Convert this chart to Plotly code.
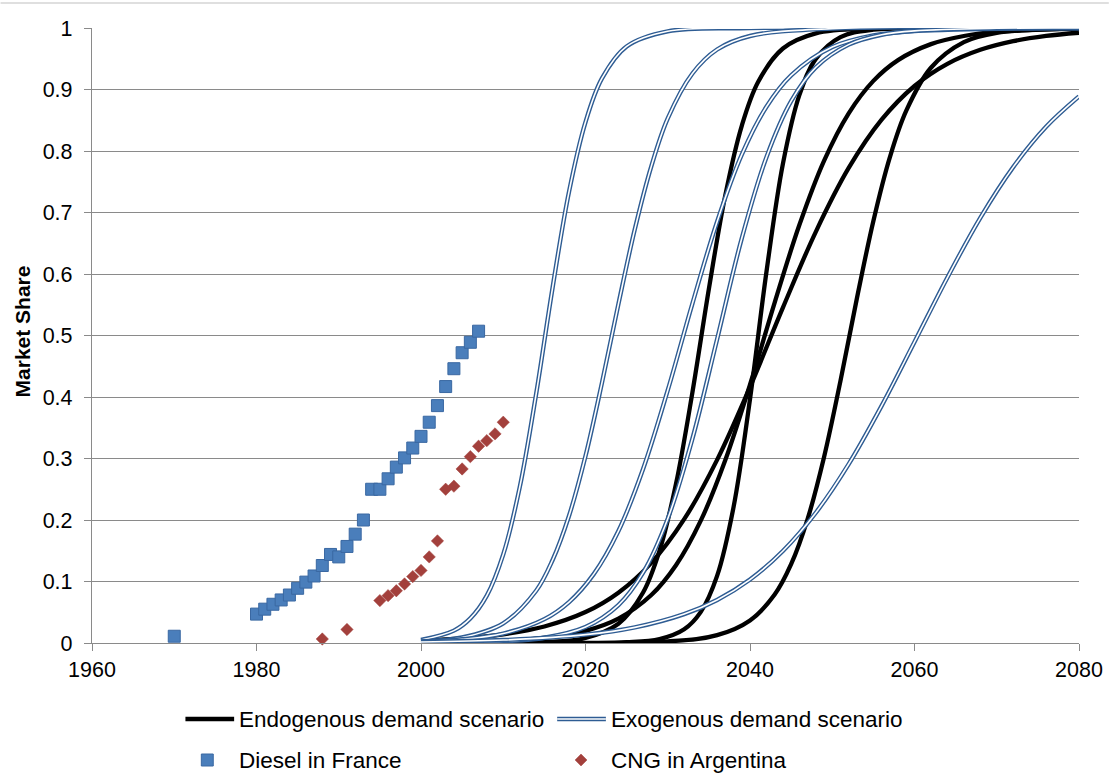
import plotly.graph_objects as go

# Historical observations
diesel_years = [1970, 1980, 1981, 1982, 1983, 1984, 1985, 1986, 1987, 1988, 1989,
                1990, 1991, 1992, 1993, 1994, 1995, 1996, 1997, 1998, 1999, 2000,
                2001, 2002, 2003, 2004, 2005, 2006, 2007]
diesel_share = [0.011, 0.047, 0.055, 0.063, 0.070, 0.078, 0.089, 0.099, 0.109, 0.126,
                0.144, 0.140, 0.157, 0.177, 0.200, 0.250, 0.250, 0.267, 0.286, 0.301,
                0.317, 0.336, 0.359, 0.386, 0.417, 0.446, 0.472, 0.489, 0.507]

cng_years = [1988, 1991, 1995, 1996, 1997, 1998, 1999, 2000, 2001, 2002, 2003, 2004,
             2005, 2006, 2007, 2008, 2009, 2010]
cng_share = [0.0065, 0.022, 0.069, 0.077, 0.085, 0.096, 0.108, 0.118, 0.140, 0.166,
             0.250, 0.255, 0.283, 0.303, 0.320, 0.329, 0.340, 0.359]

# Endogenous demand scenario curves
endo_1_years = [2000, 2010, 2015, 2020, 2024, 2027, 2029, 2031, 2033, 2035, 2037, 2039,
                2041, 2044, 2048, 2055, 2065, 2080]
endo_1_share = [0.0, 0.0003, 0.0015, 0.0082, 0.0312, 0.0821, 0.150, 0.2585, 0.4076,
                0.5759, 0.7283, 0.841, 0.9126, 0.9666, 0.9912, 0.9992, 1.0, 1.0]

endo_2_years = [2000, 2020, 2025, 2029, 2032, 2034, 2036, 2038, 2040, 2042, 2044, 2046,
                2048, 2051, 2055, 2065, 2080]
endo_2_share = [0.0, 0.0001, 0.0012, 0.0064, 0.0223, 0.0502, 0.1091, 0.2209, 0.3965,
                0.6035, 0.7791, 0.8909, 0.9498, 0.9852, 0.9972, 1.0, 1.0]

endo_3_years = [2000, 2010, 2016, 2020, 2024, 2028, 2031, 2034, 2037, 2040, 2043, 2046,
                2049, 2052, 2055, 2058, 2062, 2066, 2070, 2080]
endo_3_share = [0.0006, 0.0034, 0.0098, 0.0198, 0.0397, 0.0780, 0.1264, 0.1985, 0.2976,
                0.4202, 0.5535, 0.6796, 0.7840, 0.8613, 0.9140, 0.9478, 0.9738, 0.9870,
                0.9936, 0.9989]

endo_4_years = [2000, 2005, 2010, 2015, 2020, 2024, 2028, 2032, 2036, 2040, 2044, 2048,
                2052, 2056, 2060, 2064, 2068, 2072, 2076, 2080]
endo_4_share = [0.0039, 0.0075, 0.0142, 0.0269, 0.0503, 0.0818, 0.1303, 0.2013, 0.2978,
                0.4163, 0.5454, 0.6686, 0.7724, 0.8509, 0.9057, 0.9417, 0.9645, 0.9786,
                0.9872, 0.9923]

endo_5_years = [2000, 2030, 2036, 2040, 2043, 2045, 2047, 2049, 2051, 2053, 2055, 2057,
                2059, 2062, 2066, 2070, 2080]
endo_5_share = [0.0, 0.0026, 0.0128, 0.0367, 0.0789, 0.1282, 0.2015, 0.3022, 0.4263,
                0.5605, 0.6863, 0.7897, 0.8656, 0.9354, 0.9771, 0.9921, 0.9995]

# Exogenous demand scenario curves
exo_1_years = [2000, 2004, 2006, 2008, 2010, 2012, 2014, 2016, 2018, 2020, 2022, 2025,
               2030, 2040, 2080]
exo_1_share = [0.005, 0.0201, 0.040, 0.077, 0.144, 0.253, 0.405, 0.578, 0.734, 0.847,
               0.918, 0.970, 0.9946, 0.9998, 1.0]

exo_2_years = [2000, 2005, 2010, 2014, 2016, 2018, 2020, 2022, 2024, 2026, 2028, 2030,
               2033, 2036, 2040, 2050, 2080]
exo_2_share = [0.0025, 0.009, 0.032, 0.085, 0.135, 0.207, 0.304, 0.423, 0.551, 0.673,
               0.775, 0.853, 0.926, 0.965, 0.987, 0.999, 1.0]

exo_3_years = [2000, 2005, 2010, 2015, 2018, 2021, 2024, 2027, 2030, 2033, 2036, 2039,
               2042, 2045, 2050, 2055, 2060, 2080]
exo_3_share = [0.0023, 0.006, 0.0154, 0.0388, 0.0666, 0.112, 0.182, 0.283, 0.411, 0.552,
               0.685, 0.794, 0.872, 0.923, 0.969, 0.988, 0.995, 0.9999]

exo_4_years = [2000, 2005, 2010, 2015, 2020, 2024, 2027, 2030, 2033, 2036, 2039, 2042,
               2045, 2048, 2052, 2056, 2060, 2070, 2080]
exo_4_share = [0.0003, 0.0009, 0.0028, 0.0086, 0.026, 0.0616, 0.1143, 0.2021, 0.3323,
               0.494, 0.658, 0.790, 0.881, 0.936, 0.973, 0.989, 0.9954, 0.9995, 1.0]

exo_5_years = [2000, 2010, 2020, 2026, 2032, 2036, 2040, 2044, 2048, 2052, 2056, 2060,
               2064, 2068, 2072, 2076, 2080]
exo_5_share = [0.0017, 0.0048, 0.0136, 0.0254, 0.047, 0.070, 0.1032, 0.1496, 0.2118,
               0.291, 0.3856, 0.4895, 0.5943, 0.6913, 0.7738, 0.8394, 0.8887]

endogenous = [(endo_1_years, endo_1_share), (endo_2_years, endo_2_share),
              (endo_3_years, endo_3_share), (endo_4_years, endo_4_share),
              (endo_5_years, endo_5_share)]
exogenous = [(exo_1_years, exo_1_share), (exo_2_years, exo_2_share),
             (exo_3_years, exo_3_share), (exo_4_years, exo_4_share),
             (exo_5_years, exo_5_share)]

FONT = "Liberation Sans, Arial, sans-serif"
GRID = "#8a8a8a"
BLUE_EDGE = "#2E5C93"
DIESEL_FILL = "#4A7EBB"
DIESEL_EDGE = "#3A68A2"
CNG_FILL = "#A3403C"
BLACK_W = 4.3

fig = go.Figure()

for years, share in endogenous:
    fig.add_trace(go.Scatter(x=years, y=share, mode="lines",
                             line=dict(color="black", width=BLACK_W, shape="spline"),
                             cliponaxis=False, showlegend=False, hoverinfo="skip"))

# double line: a wide blue stroke with a thin white stroke inside it
for years, share in exogenous:
    fig.add_trace(go.Scatter(x=years, y=share, mode="lines",
                             line=dict(color=BLUE_EDGE, width=4.4, shape="spline"),
                             cliponaxis=False, showlegend=False, hoverinfo="skip"))
    fig.add_trace(go.Scatter(x=years, y=share, mode="lines",
                             line=dict(color="white", width=1.6, shape="spline"),
                             cliponaxis=False, showlegend=False, hoverinfo="skip"))

fig.add_trace(go.Scatter(x=diesel_years, y=diesel_share, mode="markers",
                         marker=dict(symbol="square", size=12, color=DIESEL_FILL,
                                     line=dict(color=DIESEL_EDGE, width=1)),
                         cliponaxis=False, showlegend=False, name="Diesel in France"))
fig.add_trace(go.Scatter(x=cng_years, y=cng_share, mode="markers",
                         marker=dict(symbol="diamond", size=9.5, color=CNG_FILL,
                                     line=dict(color=CNG_FILL, width=0.5)),
                         cliponaxis=False, showlegend=False, name="CNG in Argentina"))

# plot area geometry in pixels, used to place the hand-built legend
L, R, T, B = 92, 30, 28, 130
W, H = 1115, 773
PW, PH = W - L - R, H - T - B


def px(x):
    return (x - L) / PW


def py(y):
    return (H - B - y) / PH


shapes = [
    # thin rule along the top of the page
    dict(type="line", xref="paper", yref="paper", x0=px(0), x1=px(W),
         y0=py(3), y1=py(3), line=dict(color="#d4d4d4", width=1.5)),
    # legend samples
    dict(type="line", xref="paper", yref="paper", x0=px(186), x1=px(235),
         y0=py(719), y1=py(719), line=dict(color="black", width=BLACK_W)),
    dict(type="line", xref="paper", yref="paper", x0=px(560), x1=px(609),
         y0=py(719), y1=py(719), line=dict(color=BLUE_EDGE, width=4.4)),
    dict(type="line", xref="paper", yref="paper", x0=px(560), x1=px(609),
         y0=py(719), y1=py(719), line=dict(color="white", width=1.6)),
    dict(type="rect", xref="paper", yref="paper", x0=px(202), x1=px(214),
         y0=py(766), y1=py(754), fillcolor=DIESEL_FILL,
         line=dict(color=DIESEL_EDGE, width=1)),
]
cx, cy, r = 584, 760, 6.0
shapes.append(dict(
    type="path", xref="paper", yref="paper",
    path=(f"M {px(cx - r)} {py(cy)} L {px(cx)} {py(cy - r)} "
          f"L {px(cx + r)} {py(cy)} L {px(cx)} {py(cy + r)} Z"),
    fillcolor=CNG_FILL, line=dict(color=CNG_FILL, width=0.5)))

legend_text = [
    ("Endogenous demand scenario", 238, 719),
    ("Exogenous demand scenario", 612, 719),
    ("Diesel in France", 238, 760),
    ("CNG in Argentina", 612, 760),
]
annotations = [
    dict(text=t, x=px(x), y=py(y), xref="paper", yref="paper", xanchor="left",
         yanchor="middle", showarrow=False, font=dict(family=FONT, size=22.5, color="black"))
    for t, x, y in legend_text
]
annotations.append(dict(
    text="<b>Market Share</b>", x=px(22), y=py(331), xref="paper", yref="paper",
    xanchor="center", yanchor="middle", textangle=-90, showarrow=False,
    font=dict(family=FONT, size=21, color="black")))

fig.update_layout(
    width=W, height=H,
    margin=dict(l=L, r=R, t=T, b=B),
    paper_bgcolor="white", plot_bgcolor="white",
    showlegend=False,
    shapes=shapes,
    annotations=annotations,
    xaxis=dict(range=[1960, 2080], tick0=1960, dtick=20, showgrid=False,
               zeroline=False, showline=True, linecolor=GRID, linewidth=1.3,
               ticks="outside", ticklen=7, tickcolor=GRID, tickwidth=1.3,
               tickfont=dict(family=FONT, size=21.5, color="black"),
               fixedrange=True),
    yaxis=dict(range=[0, 1], tick0=0, dtick=0.1, showgrid=True, gridcolor=GRID,
               gridwidth=1.3, zeroline=False, showline=True, linecolor=GRID,
               linewidth=1.3, ticks="outside", ticklen=7, tickcolor=GRID,
               tickwidth=1.3, ticklabelstandoff=7,
               tickfont=dict(family=FONT, size=21.5, color="black"),
               fixedrange=True),
)

fig.write_html("out.html")
